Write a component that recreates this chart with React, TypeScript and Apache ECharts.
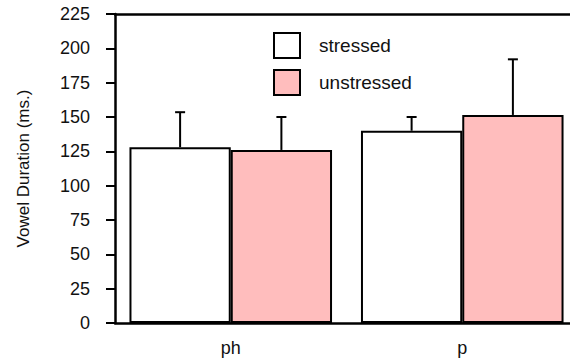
import React, { useEffect, useRef } from "react";
import * as echarts from "echarts";

// Vowel duration by consonant context
const categories = ["ph", "p"];
const stressedMeans = [128, 140];
const unstressedMeans = [126, 151.5];
const stressedUpper = [153.5, 150];
const unstressedUpper = [150, 192];
const yTicks = { min: 0, max: 225, interval: 25 };

const PINK = "#ffbdbd";
const FONT = "Liberation Sans, Arial, sans-serif";
const CAT_GAP = 0.125;

function errorSeries(name: string, upper: number[], means: number[], index: number) {
  return {
    type: "custom",
    name,
    silent: true,
    z: 1,
    data: upper.map((hi, i) => [i, means[i], hi]),
    renderItem: (_params: any, api: any) => {
      const cat = api.value(0);
      const band = api.size([1, 0])[0];
      const groupW = band * (1 - CAT_GAP);
      const barW = groupW / 2;
      const offset = -groupW / 2 + barW * (index + 0.5);
      const base = api.coord([cat, api.value(1)]);
      const top = api.coord([cat, api.value(2)]);
      const x = base[0] + offset;
      const style = { stroke: "#000", lineWidth: 2 };
      return {
        type: "group",
        children: [
          { type: "line", shape: { x1: x, y1: base[1], x2: x, y2: top[1] }, style },
          { type: "line", shape: { x1: x - 5, y1: top[1], x2: x + 5, y2: top[1] }, style },
        ],
      };
    },
  };
}

export default function App() {
  const ref = useRef<HTMLDivElement>(null);

  useEffect(() => {
    if (!ref.current) return;
    const chart = echarts.init(ref.current, null, { renderer: "svg" });
    chart.setOption({
      animation: false,
      backgroundColor: "#fff",
      textStyle: { fontFamily: FONT },
      // the plot runs slightly past the right edge of the visible frame
      grid: { left: 115, top: 14, width: 463, bottom: 35 },
      legend: {
        left: 268,
        top: 27,
        orient: "vertical",
        itemWidth: 26,
        itemHeight: 25,
        itemGap: 10,
        icon: "rect",
        data: ["stressed", "unstressed"],
        textStyle: { fontFamily: FONT, fontSize: 19, color: "#111", padding: [0, 0, 0, 14] },
      },
      xAxis: [
        {
          type: "category",
          data: categories,
          axisLine: { lineStyle: { color: "#000", width: 2.5 } },
          axisTick: { alignWithLabel: true, length: 4, lineStyle: { color: "#000" } },
          axisLabel: { color: "#111", fontSize: 18, margin: 16, fontFamily: FONT },
        },
        {
          type: "category",
          position: "top",
          data: categories,
          axisLine: { show: true, lineStyle: { color: "#000", width: 2.5 } },
          axisTick: { show: false },
          axisLabel: { show: false },
        },
      ],
      yAxis: {
        type: "value",
        min: yTicks.min,
        max: yTicks.max,
        interval: yTicks.interval,
        name: "Vowel Duration (ms.)",
        nameLocation: "middle",
        nameGap: 83,
        nameTextStyle: { fontSize: 17, color: "#111", fontFamily: FONT },
        axisLine: { show: true, lineStyle: { color: "#000", width: 2.5 } },
        axisTick: { show: true, inside: false, length: 9, lineStyle: { color: "#000", width: 2 } },
        axisLabel: { color: "#111", fontSize: 18, margin: 25, fontFamily: FONT },
        splitLine: { show: false },
      },
      series: [
        {
          type: "bar",
          name: "stressed",
          data: stressedMeans,
          barGap: "0%",
          barCategoryGap: `${CAT_GAP * 100}%`,
          itemStyle: { color: "#fff", borderColor: "#000", borderWidth: 2 },
          z: 2,
        },
        {
          type: "bar",
          name: "unstressed",
          data: unstressedMeans,
          barGap: "0%",
          barCategoryGap: `${CAT_GAP * 100}%`,
          itemStyle: { color: PINK, borderColor: "#000", borderWidth: 2 },
          z: 2,
        },
        errorSeries("stressed-err", stressedUpper, stressedMeans, 0),
        errorSeries("unstressed-err", unstressedUpper, unstressedMeans, 1),
      ],
    });
    return () => chart.dispose();
  }, []);

  return (
    <div
      style={{
        position: "fixed",
        left: 0,
        top: 0,
        width: 570,
        height: 358,
        overflow: "hidden",
        background: "#fff",
      }}
    >
      <div ref={ref} style={{ width: 600, height: 358 }} />
    </div>
  );
}
